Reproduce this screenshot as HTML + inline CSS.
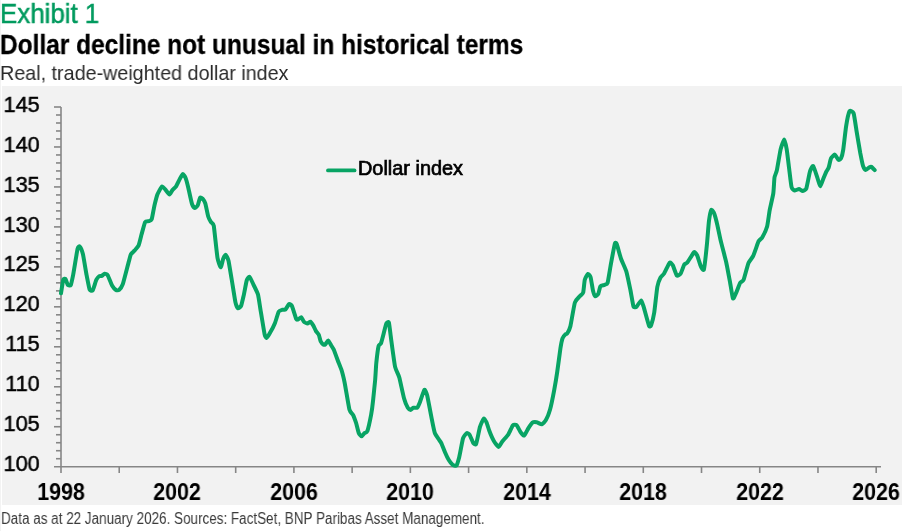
<!DOCTYPE html>
<html><head><meta charset="utf-8"><style>
html,body{margin:0;padding:0;}
body{width:902px;height:531px;position:relative;overflow:hidden;background:#fff;font-family:"Liberation Sans",sans-serif;}
.t{position:absolute;white-space:nowrap;line-height:1;transform-origin:0 0;will-change:transform;}
#ex{left:-0.43px;top:0.14px;font-size:27.33px;transform:scaleX(0.9475);color:#009a5e;-webkit-text-stroke:0.5px #009a5e;}
#ti{left:0.35px;top:31.61px;font-size:27.01px;transform:scaleX(0.906);font-weight:bold;color:#000;-webkit-text-stroke:0.3px #000;}
#su{left:0.48px;top:63.0px;font-size:20.02px;transform:scaleX(0.9859);color:#2a2a2a;}
#lb{position:absolute;left:0;top:0;width:1px;height:531px;background:#f3f3f3;}
#panel{position:absolute;left:2px;top:86px;width:900px;height:419px;background:#f2f2f2;}
#ft{left:0.9px;top:510.6px;font-size:16.0px;transform:scaleX(0.842);color:#3a3a3a;}
svg{position:absolute;left:0;top:0;}
.yl{position:absolute;will-change:transform;-webkit-text-stroke:0.5px #000;left:0px;width:39.8px;text-align:right;font-size:22.8px;color:#000;line-height:1;transform:scaleX(0.955);transform-origin:100% 0;}
.xl{position:absolute;will-change:transform;top:481px;width:100px;text-align:center;font-size:23px;font-weight:bold;color:#000;line-height:1;transform:scaleX(0.935);transform-origin:50% 0;}
#lg{left:358.1px;top:159.3px;font-size:19.7px;transform:scaleX(1.01);color:#000;-webkit-text-stroke:0.7px #000;}
</style></head><body>
<div id="lb"></div>
<div class="t" id="ex">Exhibit 1</div>
<div class="t" id="ti">Dollar decline not unusual in historical terms</div>
<div class="t" id="su">Real, trade-weighted dollar index</div>
<div id="panel"></div>
<svg width="902" height="531" viewBox="0 0 902 531">
<g stroke="#868686" stroke-width="1.6" fill="none">
<line x1="61" y1="107" x2="61" y2="473" />
<line x1="54" y1="466.70" x2="881" y2="466.70" />
<line x1="56" y1="458.71" x2="61" y2="458.71" />
<line x1="56" y1="450.71" x2="61" y2="450.71" />
<line x1="56" y1="442.72" x2="61" y2="442.72" />
<line x1="56" y1="434.73" x2="61" y2="434.73" />
<line x1="54" y1="426.73" x2="61" y2="426.73" />
<line x1="56" y1="418.74" x2="61" y2="418.74" />
<line x1="56" y1="410.75" x2="61" y2="410.75" />
<line x1="56" y1="402.75" x2="61" y2="402.75" />
<line x1="56" y1="394.76" x2="61" y2="394.76" />
<line x1="54" y1="386.77" x2="61" y2="386.77" />
<line x1="56" y1="378.77" x2="61" y2="378.77" />
<line x1="56" y1="370.78" x2="61" y2="370.78" />
<line x1="56" y1="362.79" x2="61" y2="362.79" />
<line x1="56" y1="354.79" x2="61" y2="354.79" />
<line x1="54" y1="346.80" x2="61" y2="346.80" />
<line x1="56" y1="338.81" x2="61" y2="338.81" />
<line x1="56" y1="330.81" x2="61" y2="330.81" />
<line x1="56" y1="322.82" x2="61" y2="322.82" />
<line x1="56" y1="314.83" x2="61" y2="314.83" />
<line x1="54" y1="306.83" x2="61" y2="306.83" />
<line x1="56" y1="298.84" x2="61" y2="298.84" />
<line x1="56" y1="290.85" x2="61" y2="290.85" />
<line x1="56" y1="282.85" x2="61" y2="282.85" />
<line x1="56" y1="274.86" x2="61" y2="274.86" />
<line x1="54" y1="266.87" x2="61" y2="266.87" />
<line x1="56" y1="258.87" x2="61" y2="258.87" />
<line x1="56" y1="250.88" x2="61" y2="250.88" />
<line x1="56" y1="242.89" x2="61" y2="242.89" />
<line x1="56" y1="234.89" x2="61" y2="234.89" />
<line x1="54" y1="226.90" x2="61" y2="226.90" />
<line x1="56" y1="218.91" x2="61" y2="218.91" />
<line x1="56" y1="210.91" x2="61" y2="210.91" />
<line x1="56" y1="202.92" x2="61" y2="202.92" />
<line x1="56" y1="194.93" x2="61" y2="194.93" />
<line x1="54" y1="186.93" x2="61" y2="186.93" />
<line x1="56" y1="178.94" x2="61" y2="178.94" />
<line x1="56" y1="170.95" x2="61" y2="170.95" />
<line x1="56" y1="162.95" x2="61" y2="162.95" />
<line x1="56" y1="154.96" x2="61" y2="154.96" />
<line x1="54" y1="146.97" x2="61" y2="146.97" />
<line x1="56" y1="138.97" x2="61" y2="138.97" />
<line x1="56" y1="130.98" x2="61" y2="130.98" />
<line x1="56" y1="122.99" x2="61" y2="122.99" />
<line x1="56" y1="114.99" x2="61" y2="114.99" />
<line x1="54" y1="107.00" x2="61" y2="107.00" />
<line x1="119.23" y1="466.70" x2="119.23" y2="473" />
<line x1="177.46" y1="466.70" x2="177.46" y2="473" />
<line x1="235.69" y1="466.70" x2="235.69" y2="473" />
<line x1="293.91" y1="466.70" x2="293.91" y2="473" />
<line x1="352.14" y1="466.70" x2="352.14" y2="473" />
<line x1="410.37" y1="466.70" x2="410.37" y2="473" />
<line x1="468.60" y1="466.70" x2="468.60" y2="473" />
<line x1="526.83" y1="466.70" x2="526.83" y2="473" />
<line x1="585.06" y1="466.70" x2="585.06" y2="473" />
<line x1="643.29" y1="466.70" x2="643.29" y2="473" />
<line x1="701.51" y1="466.70" x2="701.51" y2="473" />
<line x1="759.74" y1="466.70" x2="759.74" y2="473" />
<line x1="817.97" y1="466.70" x2="817.97" y2="473" />
<line x1="876.20" y1="466.70" x2="876.20" y2="473" />
</g>
<line x1="328" y1="170.4" x2="354.5" y2="170.4" stroke="#08a464" stroke-width="3.8" stroke-linecap="round"/>
<path fill="none" stroke="#08a464" stroke-width="4.0" stroke-linejoin="round" stroke-linecap="round" d="M61,293.3 C61.2,292.2 62.9,280.9 63.3,279.7 C63.7,278.5 65.1,278.6 65.5,279 C65.9,279.4 67.4,284.5 67.8,285 C68.2,285.5 70.4,285.8 70.8,285 C71.2,284.2 72.5,278.2 73.1,275.2 C73.7,272.2 77.0,251.2 77.6,248.8 C78.2,246.4 79.4,246.2 79.8,246.6 C80.2,247.0 82.3,251.7 82.9,254.1 C83.5,256.5 86.0,272.2 86.6,275.2 C87.2,278.1 89.1,288.2 89.6,289.5 C90.1,290.8 92.1,291.1 92.7,290.3 C93.3,289.5 95.8,280.9 96.4,279.7 C97.0,278.5 99.0,276.3 99.4,276 C99.8,275.7 101.3,276.2 101.7,276 C102.1,275.8 104.2,273.8 104.7,273.7 C105.2,273.6 107.1,274.2 107.7,275.2 C108.3,276.2 111.5,284.5 112.2,285.7 C112.9,286.9 115.4,289.6 116,290 C116.6,290.4 118.4,290.5 119,290 C119.6,289.5 122.0,286.6 122.8,284.2 C123.6,281.8 128.1,264.1 128.8,261.6 C129.5,259.1 130.4,255.1 130.9,254.2 C131.4,253.3 134.1,251.1 134.7,250.4 C135.3,249.7 137.9,247.0 138.5,245.7 C139.1,244.4 140.8,237.3 141.3,235.3 C141.9,233.3 144.5,223.3 145.1,222.1 C145.7,220.9 148.2,221.4 148.8,221.2 C149.4,221.0 151.2,220.6 151.7,219.3 C152.2,218.0 154.0,207.2 154.5,205.2 C155.0,203.2 156.7,196.4 157.3,194.8 C157.9,193.2 161.3,186.8 162,186.4 C162.7,186.0 165.2,189.4 165.8,190.1 C166.4,190.8 168.9,194.5 169.5,194.5 C170.1,194.5 171.8,190.8 172.4,190.1 C173.0,189.4 175.5,187.3 176.1,186.4 C176.7,185.5 179.3,179.8 179.9,178.8 C180.5,177.8 182.2,174.2 182.7,174.1 C183.2,174.0 185.1,176.7 185.6,177.9 C186.1,179.1 187.9,186.0 188.4,188.2 C188.9,190.4 191.5,202.7 192.1,204.3 C192.7,206.0 194.5,207.9 195,208 C195.5,208.1 197.4,206.1 197.8,205.2 C198.2,204.3 199.7,198.2 200.1,197.7 C200.5,197.1 202.1,198.1 202.5,198.6 C202.9,199.1 204.8,201.8 205.3,203.3 C205.8,204.8 207.7,214.9 208.2,216.5 C208.7,218.1 210.5,221.3 211,222.1 C211.5,222.9 213.3,222.9 213.8,225.9 C214.3,228.9 216.9,254.4 217.5,257.9 C218.1,261.3 220.2,267.2 220.7,267.3 C221.2,267.4 222.8,259.9 223.2,258.8 C223.6,257.8 225.2,254.5 225.6,254.7 C226.0,254.9 228.0,258.6 228.5,260.7 C229.0,262.8 231.1,276.1 231.7,279.5 C232.3,282.9 234.9,299.7 235.4,302.1 C235.9,304.5 237.4,307.9 237.9,308.2 C238.4,308.5 240.6,307.0 241.1,305.9 C241.6,304.8 243.4,296.7 243.9,294.6 C244.4,292.5 246.2,282.0 246.7,280.5 C247.2,279.0 248.9,276.4 249.5,276.7 C250.1,277.0 252.6,282.8 253.3,284.3 C254.0,285.8 257.4,292.3 258,294.6 C258.6,296.9 260.2,308.3 260.8,311.6 C261.4,314.9 264.1,332.0 264.6,334.2 C265.1,336.4 266.0,338.1 266.5,337.9 C267.0,337.7 269.6,333.6 270.3,332.3 C271.0,331.1 274.3,324.6 275,322.9 C275.7,321.2 278.1,312.7 278.7,311.6 C279.3,310.5 281.9,309.9 282.5,309.7 C283.1,309.5 284.8,310.2 285.3,309.7 C285.9,309.2 288.6,304.3 289.1,304 C289.7,303.7 291.3,304.6 291.9,305.9 C292.5,307.2 295.8,318.0 296.3,319.1 C296.9,320.2 298.1,319.3 298.5,319.1 C298.9,318.9 300.9,317.0 301.3,317.2 C301.7,317.4 303.3,321.2 303.8,321.7 C304.3,322.2 306.9,323.5 307.5,323.5 C308.1,323.5 309.9,321.5 310.4,321.7 C310.9,321.9 312.7,324.6 313.2,325.4 C313.7,326.2 315.5,330.3 316,331.1 C316.5,331.9 318.4,333.9 318.8,334.8 C319.2,335.7 320.3,340.6 320.7,341.4 C321.1,342.2 323.1,344.4 323.5,344.6 C323.9,344.8 325.0,344.6 325.4,344.3 C325.8,344.0 327.7,340.4 328.2,340.5 C328.7,340.6 330.6,344.4 331.1,345.2 C331.6,346.0 333.3,348.6 333.9,349.9 C334.4,351.2 337.1,358.7 337.7,360.3 C338.3,361.9 340.8,367.9 341.4,369.7 C342.0,371.5 343.8,378.7 344.5,382 C345.2,385.3 348.7,406.7 349.4,409.5 C350.1,412.3 352.6,414.1 353.2,415.2 C353.8,416.3 355.5,421.2 356,422.7 C356.5,424.2 358.3,432.0 358.8,433.1 C359.3,434.2 361.2,436.3 361.7,436.3 C362.2,436.3 364.0,433.5 364.5,433.1 C365.0,432.7 366.8,432.7 367.3,431.2 C367.9,429.7 370.6,417.5 371.1,414.9 C371.6,412.3 372.8,403.2 373.1,400.3 C373.4,397.4 374.8,383.7 375.1,380.6 C375.4,377.5 376.0,365.9 376.3,363 C376.6,360.1 378.2,347.6 378.6,346 C379.0,344.4 380.6,344.4 381,343.3 C381.4,342.2 383.4,334.6 383.8,333 C384.2,331.4 385.9,324.4 386.3,323.5 C386.7,322.6 388.5,321.2 388.9,322.6 C389.3,324.0 390.8,336.8 391.3,340.5 C391.8,344.2 394.4,363.8 395.1,366.9 C395.8,370.0 398.6,374.9 399.3,377.5 C400.0,380.1 403.3,395.7 404,398.2 C404.7,400.7 407.2,406.7 407.8,407.7 C408.4,408.7 410.1,409.9 410.6,409.9 C411.1,409.9 412.8,407.9 413.4,407.7 C413.9,407.5 416.6,408.2 417.2,407.7 C417.8,407.2 419.4,403.5 420,402 C420.6,400.5 423.8,390.3 424.4,389.8 C425.0,389.3 426.6,393.0 427.2,395.5 C427.8,398.0 431.3,416.6 431.9,419.7 C432.5,422.8 434.3,431.7 434.9,433.3 C435.5,434.9 438.2,438.5 438.7,439.3 C439.2,440.1 440.8,442.0 441.3,443.1 C441.8,444.2 444.5,451.1 445.1,452.5 C445.7,453.9 448.2,459.0 448.8,460 C449.4,461.0 452.0,464.2 452.6,464.7 C453.2,465.2 455.8,466.3 456.4,465.7 C456.9,465.1 458.6,459.5 459.2,457.2 C459.8,454.9 462.4,440.4 463,438.4 C463.6,436.4 466.2,433.4 466.7,433.1 C467.2,432.8 468.9,433.8 469.5,434.6 C470.1,435.4 472.8,442.3 473.3,443.1 C473.9,443.9 475.6,445.3 476.1,444 C476.7,442.7 479.3,429.2 479.9,427.1 C480.5,425.0 483.1,419.0 483.7,418.6 C484.2,418.2 486.0,421.4 486.5,422.4 C487.0,423.4 488.7,429.2 489.3,430.8 C489.9,432.4 493.2,439.9 494,441.2 C494.8,442.5 498.0,446.9 498.7,446.9 C499.4,446.9 501.7,442.2 502.5,441.2 C503.3,440.2 507.3,435.9 508.2,434.6 C509.1,433.3 512.2,426.0 512.9,425.2 C513.6,424.4 516.0,424.6 516.6,425.2 C517.2,425.8 519.8,430.9 520.4,431.8 C521.0,432.7 523.5,435.9 524.2,435.6 C524.9,435.3 527.6,429.5 528.3,428.4 C529.0,427.3 531.7,423.1 532.4,422.6 C533.1,422.1 535.8,422.1 536.6,422.2 C537.4,422.3 541.0,424.5 541.8,424.3 C542.6,424.1 545.2,421.3 545.9,420.1 C546.6,418.9 549.3,412.3 550,409.8 C550.7,407.3 553.6,393.3 554.2,390.1 C554.8,386.9 556.8,374.9 557.3,371.4 C557.8,367.9 560.0,351.4 560.4,348.6 C560.8,345.8 562.1,339.5 562.5,338.3 C562.9,337.1 565.2,334.5 565.6,334.1 C566.0,333.7 566.8,334.1 567.2,333.5 C567.6,332.9 569.8,328.9 570.4,326.3 C571.0,323.7 574.1,305.0 574.9,302.5 C575.7,300.0 579.0,297.1 579.7,296.3 C580.4,295.5 582.8,293.9 583.2,292.5 C583.6,291.1 584.4,281.2 584.8,279.7 C585.2,278.1 587.5,274.1 588,273.9 C588.5,273.7 590.2,275.8 590.6,277.2 C591.0,278.6 592.7,289.5 593.1,291.1 C593.5,292.7 594.8,296.1 595.2,296.3 C595.6,296.5 597.9,294.6 598.3,293.8 C598.7,293.0 599.9,287.0 600.4,286.3 C600.9,285.6 603.9,285.2 604.5,284.9 C605.1,284.6 607.1,284.4 607.6,282.8 C608.1,281.2 610.1,268.5 610.7,265.2 C611.3,261.9 614.4,245.2 614.9,243.5 C615.4,241.8 616.4,243.2 616.9,244.5 C617.4,245.8 620.3,256.8 621.1,259 C621.9,261.2 625.5,268.8 626.3,271.4 C627.1,274.0 629.8,287.1 630.4,290 C631.0,292.9 633.0,305.2 633.5,306.6 C634.0,308.0 636.0,307.1 636.6,306.6 C637.2,306.1 640.6,300.3 641.2,300.4 C641.8,300.5 643.2,305.5 643.9,307.6 C644.5,309.7 648.4,324.2 649,325.7 C649.6,327.2 650.7,326.3 651.1,325.2 C651.5,324.1 653.7,316.0 654.2,312.8 C654.7,309.6 656.8,289.9 657.3,287 C657.8,284.1 659.8,278.8 660.4,277.7 C661.0,276.6 663.3,274.8 664.1,273.5 C664.9,272.2 669.0,263.3 669.7,262.6 C670.4,261.9 672.2,264.2 672.8,265.3 C673.4,266.4 676.2,274.9 676.9,275.6 C677.6,276.3 680.1,274.4 680.7,273.5 C681.3,272.6 683.7,265.5 684.2,264.6 C684.8,263.7 686.5,263.6 687.3,262.6 C688.1,261.6 693.3,252.8 694.1,252.2 C694.9,251.6 696.6,254.3 697.2,255.5 C697.8,256.7 700.2,265.1 700.8,266.3 C701.4,267.5 703.4,271.3 703.9,269.4 C704.4,267.5 706.6,247.6 707,243.5 C707.4,239.4 708.6,223.5 709,220.7 C709.4,217.9 710.9,210.5 711.3,209.9 C711.7,209.3 713.7,212.2 714.2,213.5 C714.7,214.8 716.8,222.7 717.3,224.9 C717.8,227.1 719.7,236.3 720.4,239.4 C721.1,242.5 725.4,258.8 726.2,262.2 C727.0,265.6 729.2,277.8 729.8,280.8 C730.4,283.8 732.4,297.4 732.9,298.4 C733.4,299.4 735.4,294.5 736,293.2 C736.6,291.9 739.5,284.0 740.1,282.9 C740.7,281.8 742.9,281.4 743.6,279.8 C744.3,278.2 747.6,265.2 748.4,263.2 C749.2,261.2 752.4,257.7 753.2,255.9 C754.1,254.1 757.9,242.7 758.6,241.2 C759.4,239.7 761.5,238.7 762.2,237.5 C762.9,236.3 766.5,228.7 767.1,226.5 C767.7,224.3 769.1,213.4 769.6,210.6 C770.1,207.8 772.9,196.2 773.3,193.4 C773.7,190.6 774.2,179.4 774.5,177.5 C774.8,175.6 776.4,172.5 776.9,170.2 C777.4,167.9 780.0,152.0 780.6,149.4 C781.2,146.8 783.8,139.6 784.3,139.6 C784.8,139.6 786.3,147.0 786.7,149.4 C787.1,151.8 788.8,165.8 789.2,169 C789.6,172.2 791.1,185.5 791.6,187.3 C792.1,189.1 794.0,190.4 794.6,190.5 C795.2,190.6 798.3,189.0 799,189 C799.7,189.0 802.0,191.0 802.6,191 C803.2,191.0 805.7,190.1 806.3,188.5 C806.9,186.9 809.4,173.3 810,171.4 C810.6,169.5 812.6,165.4 813.2,166 C813.9,166.6 817.2,177.4 817.8,179.1 C818.4,180.8 819.8,186.4 820.3,186.3 C820.8,186.2 823.0,179.4 823.5,178.2 C824.0,177.0 825.9,172.5 826.3,171.6 C826.7,170.7 828.2,168.9 828.6,167.8 C829.0,166.7 830.5,159.5 831,158.4 C831.5,157.3 834.2,154.5 834.8,154.6 C835.4,154.7 838.0,159.6 838.5,159.9 C839.0,160.2 840.6,159.2 841,158.4 C841.4,157.6 842.8,152.6 843.2,149.9 C843.6,147.2 845.6,129.6 846.1,126.4 C846.6,123.2 848.9,112.4 849.5,111.3 C850.1,110.2 853.0,111.6 853.6,113.2 C854.2,114.8 855.9,126.8 856.4,130.1 C856.9,133.4 859.7,149.7 860.2,152.7 C860.8,155.7 862.5,164.5 863,165.9 C863.5,167.3 865.2,170.0 865.8,170.1 C866.3,170.2 869.1,167.5 869.6,167.2 C870.1,166.9 871.1,166.7 871.5,166.9 C871.9,167.1 874.4,169.8 874.7,170.1"/>
</svg>
<div class="yl" style="top:452.30px">100</div>
<div class="yl" style="top:412.33px">105</div>
<div class="yl" style="top:372.37px">110</div>
<div class="yl" style="top:332.40px">115</div>
<div class="yl" style="top:292.43px">120</div>
<div class="yl" style="top:252.47px">125</div>
<div class="yl" style="top:212.50px">130</div>
<div class="yl" style="top:172.53px">135</div>
<div class="yl" style="top:132.57px">140</div>
<div class="yl" style="top:92.60px">145</div>
<div class="xl" style="left:11.00px">1998</div>
<div class="xl" style="left:127.46px">2002</div>
<div class="xl" style="left:243.91px">2006</div>
<div class="xl" style="left:360.37px">2010</div>
<div class="xl" style="left:476.83px">2014</div>
<div class="xl" style="left:593.29px">2018</div>
<div class="xl" style="left:709.74px">2022</div>
<div class="xl" style="left:826.20px">2026</div>
<div class="t" id="lg">Dollar index</div>
<div class="t" id="ft">Data as at 22 January 2026. Sources: FactSet, BNP Paribas Asset Management.</div>
</body></html>
